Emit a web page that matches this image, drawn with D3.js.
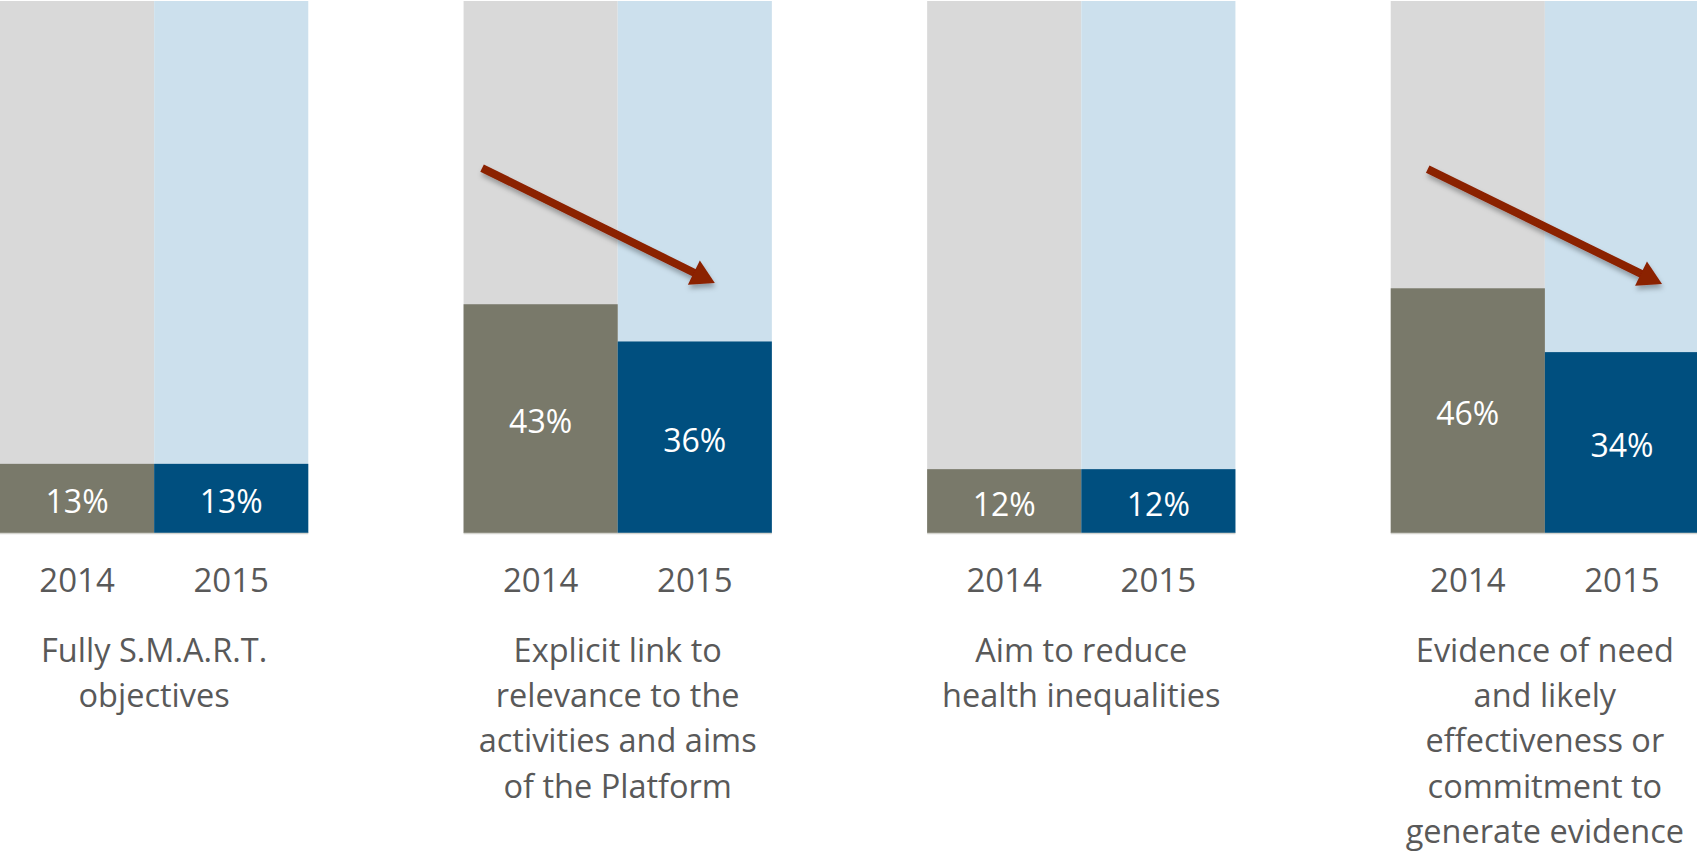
<!DOCTYPE html>
<html>
<head>
<meta charset="utf-8">
<script src="https://cdn.jsdelivr.net/npm/d3@7"></script>
<style>
    html, body { margin: 0; padding: 0; background: #fff; overflow: hidden; }
    text { font-family: "Open Sans", "Noto Sans", sans-serif; }
</style>
</head>
<body>
<svg id="chart"></svg>
<script>
// data
const categories = [
    "Fully S.M.A.R.T. objectives",
    "Explicit link to relevance to the activities and aims of the Platform",
    "Aim to reduce health inequalities",
    "Evidence of need and likely effectiveness or commitment to generate evidence"
];
const categoryLines = [
    ["Fully S.M.A.R.T.", "objectives"],
    ["Explicit link to", "relevance to the", "activities and aims", "of the Platform"],
    ["Aim to reduce", "health inequalities"],
    ["Evidence of need", "and likely", "effectiveness or", "commitment to", "generate evidence"]
];
const years = ["2014", "2015"];
const values2014 = [0.13, 0.43, 0.12, 0.46];
const values2015 = [0.13, 0.36, 0.12, 0.34];

// downward trend arrows (annotation): position inside the 2014 bar -> 2015 bar
const trendArrows = [
    { category: categories[1], fromX: 0.12, fromY: 0.686, toX: 0.63, toY: 0.47 },
    { category: categories[3], fromX: 0.24, fromY: 0.684, toX: 0.76, toY: 0.468 }
];

const width = 1697, height = 853;
const colors = {
    "2014": { back: "#d9d9d9", front: "#79796a" },
    "2015": { back: "#cce0ed", front: "#004f7f" }
};

const svg = d3.select("#chart")
    .attr("width", width)
    .attr("height", height);

const defs = svg.append("defs");
defs.append("filter")
    .attr("id", "shadow")
    .attr("x", "-20%").attr("y", "-20%")
    .attr("width", "140%").attr("height", "160%")
    .append("feDropShadow")
    .attr("dx", 1).attr("dy", 4)
    .attr("stdDeviation", 2.5)
    .attr("flood-color", "#000")
    .attr("flood-opacity", 0.3);

// the last group runs a little past the right edge in the reference
const x = d3.scaleBand()
    .domain(categories)
    .range([0, 1699])
    .paddingInner(0.335)
    .paddingOuter(0);

const xYear = d3.scaleBand()
    .domain(years)
    .range([0, x.bandwidth()]);

const y = d3.scaleLinear()
    .domain([0, 1])
    .range([533, 1]);

const rows = categories.map((c, i) => ({
    category: c,
    lines: categoryLines[i],
    bars: [
        { year: "2014", value: values2014[i] },
        { year: "2015", value: values2015[i] }
    ]
}));

const pct = d3.format(".0%");

const groups = svg.selectAll(".group")
    .data(rows)
    .enter()
    .append("g")
    .attr("class", "group")
    .attr("transform", d => `translate(${x(d.category)},0)`);

// full-height background bars
groups.selectAll(".back")
    .data(d => d.bars)
    .enter()
    .append("rect")
    .attr("class", "back")
    .attr("x", d => xYear(d.year))
    .attr("y", y(1))
    .attr("width", xYear.bandwidth())
    .attr("height", y(0) - y(1))
    .attr("fill", d => colors[d.year].back);

// value bars
groups.selectAll(".front")
    .data(d => d.bars)
    .enter()
    .append("rect")
    .attr("class", "front")
    .attr("x", d => xYear(d.year))
    .attr("y", d => y(d.value))
    .attr("width", xYear.bandwidth())
    .attr("height", d => y(0) - y(d.value))
    .attr("fill", d => colors[d.year].front);

// baseline
groups.append("line")
    .attr("x1", 0)
    .attr("x2", x.bandwidth())
    .attr("y1", y(0) + 0.5)
    .attr("y2", y(0) + 0.5)
    .attr("stroke", "#d4d4ce")
    .attr("stroke-width", 1.5);

// value labels
groups.selectAll(".val")
    .data(d => d.bars)
    .enter()
    .append("text")
    .attr("class", "val")
    .attr("x", d => xYear(d.year) + xYear.bandwidth() / 2)
    .attr("y", d => (y(d.value) + y(0)) / 2 + 2)
    .attr("text-anchor", "middle")
    .attr("dominant-baseline", "central")
    .attr("fill", "#fff")
    .style("font-size", "32px")
    .text(d => pct(d.value));

// year labels
groups.selectAll(".year")
    .data(d => d.bars)
    .enter()
    .append("text")
    .attr("class", "year")
    .attr("x", d => xYear(d.year) + xYear.bandwidth() / 2)
    .attr("y", 592)
    .attr("text-anchor", "middle")
    .attr("fill", "#595959")
    .style("font-size", "33px")
    .text(d => d.year);

// category labels
groups.append("text")
    .attr("class", "cat")
    .attr("text-anchor", "middle")
    .attr("fill", "#595959")
    .style("font-size", "32.5px")
    .selectAll("tspan")
    .data(d => d.lines)
    .enter()
    .append("tspan")
    .attr("x", x.bandwidth() / 2)
    .attr("y", (d, i) => 662 + i * 45.2)
    .text(d => d);

// arrows
const arrowColor = "#8b2000";
trendArrows.forEach(a => {
    const gx = x(a.category);
    const x0 = gx + xYear("2014") + a.fromX * xYear.bandwidth();
    const x1 = gx + xYear("2015") + a.toX * xYear.bandwidth();
    const y0 = y(a.fromY), y1 = y(a.toY);
    const ang = Math.atan2(y1 - y0, x1 - x0);
    const side = 27, headLen = side * Math.sqrt(3) / 2;
    const ux = Math.cos(ang), uy = Math.sin(ang);
    const bx = x1 - ux * headLen, by = y1 - uy * headLen;
    const g = svg.append("g").attr("filter", "url(#shadow)");
    g.append("line")
        .attr("x1", x0).attr("y1", y0)
        .attr("x2", bx + ux * 2).attr("y2", by + uy * 2)
        .attr("stroke", arrowColor)
        .attr("stroke-width", 8);
    g.append("path")
        .attr("d", d3.line()([
            [x1, y1],
            [bx - uy * side / 2, by + ux * side / 2],
            [bx + uy * side / 2, by - ux * side / 2]
        ]) + "Z")
        .attr("fill", arrowColor);
});
</script>
</body>
</html>
